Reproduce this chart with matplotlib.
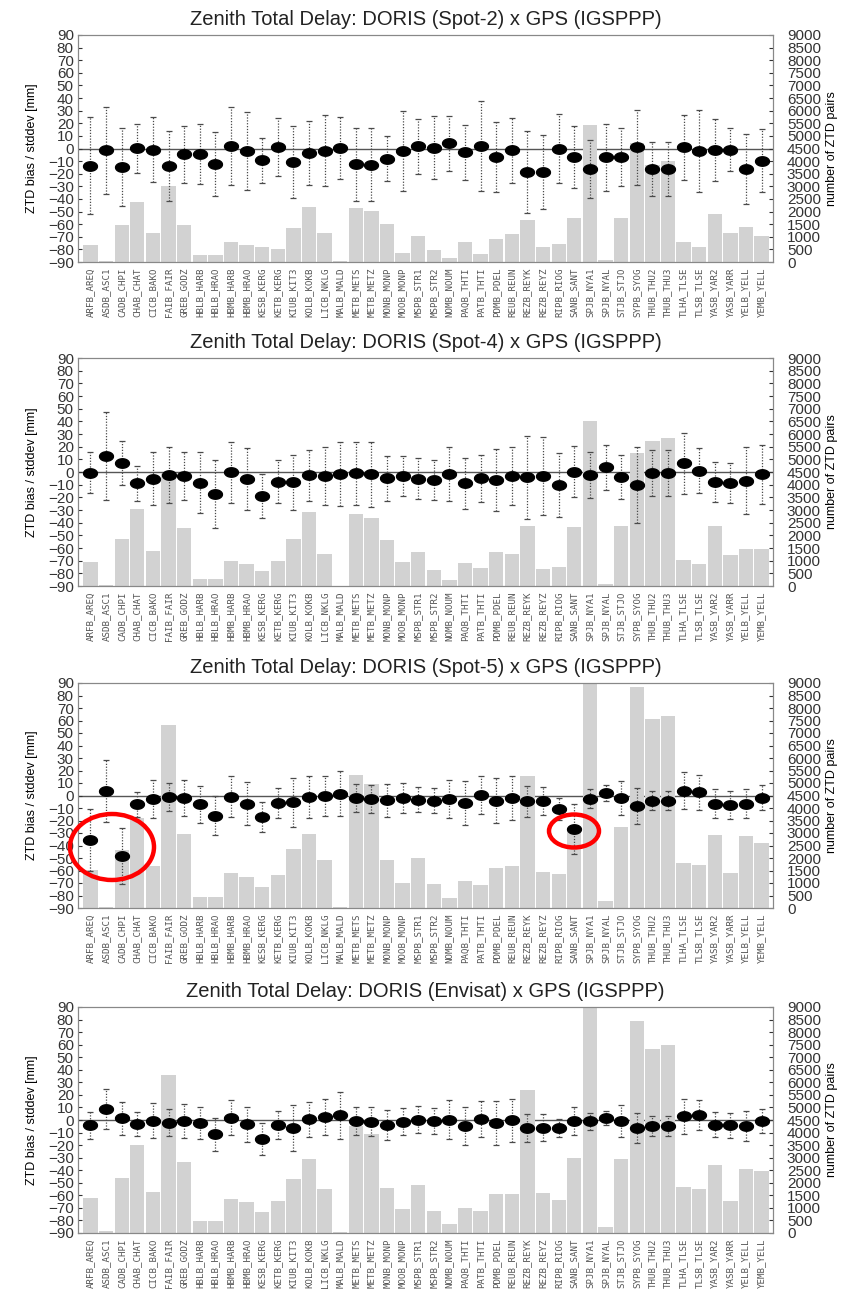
import matplotlib
matplotlib.use('Agg')
import matplotlib.pyplot as plt
import numpy as np
from matplotlib.path import Path
from matplotlib.patches import Ellipse

stations = ['ARFB_AREQ', 'ASDB_ASC1', 'CADB_CHPI', 'CHAB_CHAT', 'CICB_BAKO', 'FAIB_FAIR',
            'GREB_GODZ', 'HBLB_HARB', 'HBLB_HRAO', 'HBMB_HARB', 'HBMB_HRAO', 'KESB_KERG',
            'KETB_KERG', 'KIUB_KIT3', 'KOLB_KOKB', 'LICB_NKLG', 'MALB_MALD', 'METB_METS',
            'METB_METZ', 'MONB_MONP', 'MOOB_MONP', 'MSPB_STR1', 'MSPB_STR2', 'NOMB_NOUM',
            'PAQB_THTI', 'PATB_THTI', 'PDMB_PDEL', 'REUB_REUN', 'REZB_REYK', 'REZB_REYZ',
            'RIPB_RIOG', 'SANB_SANT', 'SPJB_NYA1', 'SPJB_NYAL', 'STJB_STJO', 'SYPB_SYOG',
            'THUB_THU2', 'THUB_THU3', 'TLHA_TLSE', 'TLSB_TLSE', 'YASB_YAR2', 'YASB_YARR',
            'YELB_YELL', 'YEMB_YELL']

titles = ['Zenith Total Delay: DORIS (Spot-2) x GPS (IGSPPP)',
          'Zenith Total Delay: DORIS (Spot-4) x GPS (IGSPPP)',
          'Zenith Total Delay: DORIS (Spot-5) x GPS (IGSPPP)',
          'Zenith Total Delay: DORIS (Envisat) x GPS (IGSPPP)']

# ZTD bias [mm]
bias_spot2 = [-13.5, -1.3, -14.5, 0.3, -0.8, -14, -4.5, -4.2, -12.5, 2, -2, -9.5,
              0.8, -10.5, -3.7, -1.6, 0.5, -12.4, -13, -8, -2, 1.6,
              0.5, 4, -3, 2, -6.6, -1.3, -18.5, -18.5, -0.3, -6.9,
              -15.9, -7, -7, 1, -15.9, -15.9, 1, -1.9, -1, -0.8, -16.4, -9.8]
std_spot2 = [38.5, 34.6, 31, 19.5, 26, 28, 22.5, 24, 25.5, 31, 31, 18,
             23, 28.7, 25.4, 28, 24.7, 29, 29, 18, 31.5, 22,
             25, 21.5, 22, 36, 28, 25.8, 32.3, 29.5, 27.4, 24.7,
             23, 26.8, 23, 29.7, 21.4, 21.4, 25.7, 32.8, 24.7, 17.2, 27.8, 25]
pairs_spot2 = [660, 40, 1450, 2370, 1165, 3020, 1450, 290, 290, 780, 690, 600,
               500, 1340, 2200, 1150, 40, 2150, 2030, 1520, 370, 1030,
               490, 170, 810, 330, 900, 1100, 1650, 600, 730, 1750,
               5430, 90, 1750, 4700, 3840, 4010, 810, 600, 1920, 1150, 1390, 1050]

bias_spot4 = [-0.5, 12.7, 6.9, -9, -5.3, -2.4, -3.2, -8.4, -17.4, -0.3, -5.3, -19,
              -7.7, -8.2, -2.6, -3.2, -1.8, -1, -1.8, -5, -3.2, -5.5,
              -6.3, -1.6, -9, -5, -6.3, -3.2, -4.2, -3.2, -10.3, 0.3,
              -2.4, 3.7, -3.7, -10.3, -1, -1, 6.9, 1, -8.2, -8.7, -6.9, -1.8]
std_spot4 = [16, 34.6, 17.4, 13.8, 20.7, 21.8, 19, 24, 26.6, 24, 24.6, 17.4,
             17, 21.8, 20, 23, 25.3, 25, 25.6, 17.8, 15.8, 16.2,
             16, 21, 20.3, 18.5, 24.3, 23, 32.6, 31, 25, 20,
             17.8, 18, 17.4, 30, 18.2, 18.2, 24.2, 17.7, 15.8, 15.8, 26.6, 23.5]
pairs_spot4 = [950, 20, 1870, 3020, 1390, 4450, 2270, 290, 290, 990, 880, 590,
               990, 1850, 2940, 1280, 10, 2840, 2690, 1830, 940, 1330,
               650, 220, 910, 730, 1330, 1250, 2380, 660, 750, 2340,
               6520, 90, 2380, 5240, 5740, 5830, 1040, 880, 2360, 1210, 1470, 1470]

bias_spot5 = [-35.6, 3.7, -48, -6.9, -2.7, -1, -2.1, -6.9, -16.2, -1, -6.4, -17,
              -5.9, -5.3, -1, 0, 1.6, -2.1, -2.9, -3.7, -1.6, -3.2,
              -4, -2.9, -5.9, 0.3, -4, -1.9, -4.5, -4.5, -10.9, -26.9,
              -2.4, 2.1, -1.9, -8.2, -4, -4, 4, 2.7, -6.4, -7.7, -6.4, -1.9]
std_spot5 = [24.5, 25, 22.4, 10, 15.3, 11.4, 14.2, 14.9, 15.6, 16.5, 17, 12,
             11.7, 19.5, 17, 16, 18, 11.3, 11.3, 13.3, 12, 10.3,
             10.3, 15.3, 17.5, 15.3, 18, 17.3, 12.3, 11.3, 8.6, 20,
             7.7, 6.6, 13.4, 14.2, 7.7, 7.7, 14.6, 14, 11.4, 11, 11.7, 10]
pairs_spot5 = [1530, 40, 2330, 3610, 1690, 7310, 2950, 440, 440, 1400, 1260, 860,
               1330, 2350, 2950, 1930, 40, 5340, 4980, 1930, 1020, 1990,
               960, 400, 1090, 930, 1620, 1690, 5280, 1460, 1360, 3200,
               9200, 270, 3260, 8840, 7580, 7680, 1790, 1730, 2920, 1400, 2900, 2590]

bias_envisat = [-4.2, 8.5, 1.3, -3.5, -0.5, -2.1, -1, -2.4, -11.4, 1.9, -3.5, -14.9,
                -3.7, -6.1, 0.5, 2.4, 3.7, -0.8, -1.3, -4, -1.3, 0.3,
                -0.8, 0.3, -4.8, 1, -2.4, -0.3, -6.4, -6.1, -6.4, -0.8,
                -1, 1.9, -0.8, -6.4, -4.8, -4.8, 2.9, 4.2, -3.7, -4.2, -5, -1]
std_envisat = [10.9, 16, 13.3, 9.5, 14, 10.6, 13.5, 12.7, 13.3, 13.7, 13.7, 12.6,
               11.1, 18.2, 14.2, 14.6, 18.6, 11, 11.4, 12.3, 10.9, 10.5,
               10.5, 15.5, 15.3, 14.2, 17.5, 17, 11.5, 11, 7.5, 11.5,
               6.9, 5.5, 12.6, 12.3, 7.6, 7.6, 13.9, 12.1, 10, 9.9, 12, 9.7]
pairs_envisat = [1410, 80, 2190, 3490, 1630, 6280, 2830, 460, 460, 1340, 1230, 840,
                 1270, 2160, 2960, 1740, 40, 4250, 3960, 1800, 970, 1920,
                 880, 370, 1010, 890, 1540, 1570, 5680, 1590, 1330, 3000,
                 9200, 240, 2930, 8430, 7340, 7500, 1830, 1770, 2720, 1270, 2560, 2460]

panels = [(bias_spot2, std_spot2, pairs_spot2),
          (bias_spot4, std_spot4, pairs_spot4),
          (bias_spot5, std_spot5, pairs_spot5),
          (bias_envisat, std_envisat, pairs_envisat)]

# axes boxes in pixels (top, bottom)
boxes = [(35, 262), (358, 586), (683, 908), (1007, 1233)]
W, H = 847, 1296

# ellipse shaped marker like the original
t = np.linspace(0, 2 * np.pi, 40)
dot = Path(np.column_stack([np.cos(t), 0.68 * np.sin(t)]))

plt.rcParams['font.family'] = ['Liberation Sans', 'DejaVu Sans']
fig = plt.figure(figsize=(W / 100, H / 100), dpi=100)

x = np.arange(len(stations))
for (bias, std, pairs), title, (top, bot) in zip(panels, titles, boxes):
    ax = fig.add_axes([78 / W, (H - bot) / H, (773 - 78) / W, (bot - top) / H])
    ax2 = ax.twinx()
    ax.set_zorder(ax2.get_zorder() + 1)
    ax.patch.set_visible(False)

    ax2.axhline(4500, color='#555555', lw=1, zorder=1)
    ax2.bar(x, pairs, width=0.92, color='#d2d2d2', zorder=2)
    ax2.set_ylim(0, 9000)
    ax2.set_yticks(np.arange(0, 9001, 500))

    eb = ax.errorbar(x, bias, yerr=std, fmt='none', ecolor='#4a4a4a', elinewidth=0.9,
                     capsize=2, capthick=0.9)
    eb[2][0].set_linestyle((0, (1, 1.3)))
    ax.plot(x, bias, linestyle='none', marker=dot, markersize=10, color='black')
    ax.set_ylim(-90, 90)
    ax.set_yticks(np.arange(-90, 91, 10))
    ax.set_xlim(-0.8, len(stations) - 0.27)
    ax.set_xticks(x)
    ax.set_xticklabels(stations, rotation=90, family='DejaVu Sans Mono', fontsize=6.6,
                       color='#555555')
    ax.set_title(title, fontsize=14.5, color='#222222', pad=7)
    ax.set_ylabel('ZTD bias / stddev [mm]', fontsize=9, labelpad=7)
    ax2.set_ylabel('number of ZTD pairs', fontsize=9, labelpad=4)

    for a in (ax, ax2):
        a.tick_params(axis='y', direction='in', length=3, labelsize=11, colors='#333333',
                      pad=3)
        for s in a.spines.values():
            s.set_color('#888888')
    ax2.tick_params(axis='y', pad=10)
    ax.tick_params(axis='x', length=0, pad=4)

# red circles drawn on the Spot-5 panel
for cx, cy, w, h in [(112, 847, 84, 66), (574, 831, 50, 33)]:
    fig.add_artist(Ellipse((cx / W, (H - cy) / H), w / W, h / H, fill=False,
                           edgecolor='red', lw=3.2, transform=fig.transFigure, zorder=10))

fig.savefig('out.png', dpi=100)
